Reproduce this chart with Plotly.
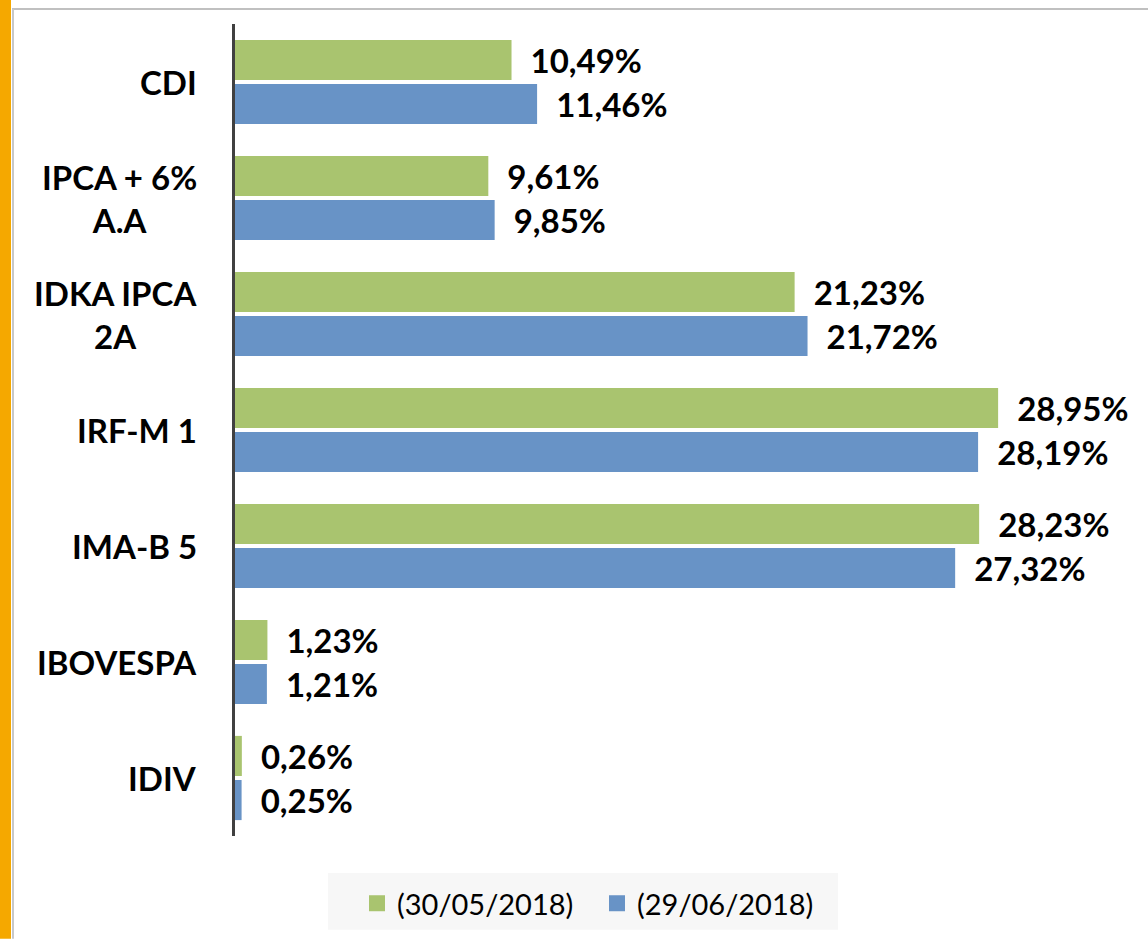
import plotly.graph_objects as go

categories = ["CDI", "IPCA + 6%<br>A.A", "IDKA IPCA<br>2A", "IRF-M 1", "IMA-B 5", "IBOVESPA", "IDIV"]
series_names = ["(30/05/2018)", "(29/06/2018)"]
may_values = [10.49, 9.61, 21.23, 28.95, 28.23, 1.23, 0.26]
jun_values = [11.46, 9.85, 21.72, 28.19, 27.32, 1.21, 0.25]
colors = ["#A9C46F", "#6893C6"]

W, H = 1148, 941
L, R, T, B = 235, 28, 24, 103
PW, PH = W - L - R, H - T - B

def px(x):
    return (x - L) / PW

def py(y):
    return (H - B - y) / PH

FONT = "Lato"

def fmt(v):
    return "\u00a0\u00a0" + f"{v:.2f}".replace(".", ",") + "%"

fig = go.Figure()
for name, vals, col in zip(series_names, [may_values, jun_values], colors):
    fig.add_trace(go.Bar(
        y=categories, x=vals, name=name, orientation="h", showlegend=False,
        marker=dict(color=col, line=dict(width=0)),
        text=[fmt(v) for v in vals], textposition="outside",
        textfont=dict(family=FONT, size=33, color="black", weight="bold"),
        constraintext="none", cliponaxis=False,
    ))
for name, col in zip(series_names, colors):
    fig.add_trace(go.Scatter(
        x=[None], y=[None], mode="markers", name=name, showlegend=True,
        marker=dict(symbol="square", size=17, color=col),
    ))

annotations = []
for c in categories:
    annotations.append(dict(
        x=px(199), xref="paper", y=c, yref="y", text=c, showarrow=False,
        xanchor="right", align="center",
        font=dict(family=FONT, size=33, color="black", weight="bold"),
    ))

shapes = [
    dict(type="rect", xref="paper", yref="paper", x0=px(0), x1=px(11), y0=py(H), y1=py(0),
         fillcolor="#F5A800", line=dict(width=0), layer="above"),
    dict(type="line", xref="paper", yref="paper", x0=px(12), x1=px(W), y0=py(9), y1=py(9),
         line=dict(color="#C0C0C0", width=2)),
    dict(type="line", xref="paper", yref="paper", x0=px(13), x1=px(13), y0=py(9), y1=py(H),
         line=dict(color="#C8C8C8", width=2)),
    dict(type="rect", xref="paper", yref="paper", x0=px(328), x1=px(838), y0=py(932), y1=py(875),
         fillcolor="#F7F7F7", line=dict(width=0), layer="below"),
]

fig.update_layout(
    width=W, height=H,
    margin=dict(l=L, r=R, t=T, b=B),
    paper_bgcolor="white", plot_bgcolor="rgba(0,0,0,0)",
    barmode="group", bargap=0.24, bargroupgap=0.09,
    xaxis=dict(range=[0, PW / 26.36], visible=False, showgrid=False, zeroline=False),
    yaxis=dict(autorange="reversed", showticklabels=False, showgrid=False, zeroline=False,
               showline=True, linecolor="#404040", linewidth=3, ticks=""),
    legend=dict(orientation="h", x=px(357), xanchor="left", y=py(880), yanchor="top",
                bgcolor="rgba(0,0,0,0)", font=dict(family=FONT, size=29, color="black"),
                itemwidth=30, entrywidth=195, entrywidthmode="pixels"),
    annotations=annotations, shapes=shapes,
    showlegend=True,
)

fig.write_html("out.html", config={"displayModeBar": False},
               post_script="document.body.style.margin='0';")
